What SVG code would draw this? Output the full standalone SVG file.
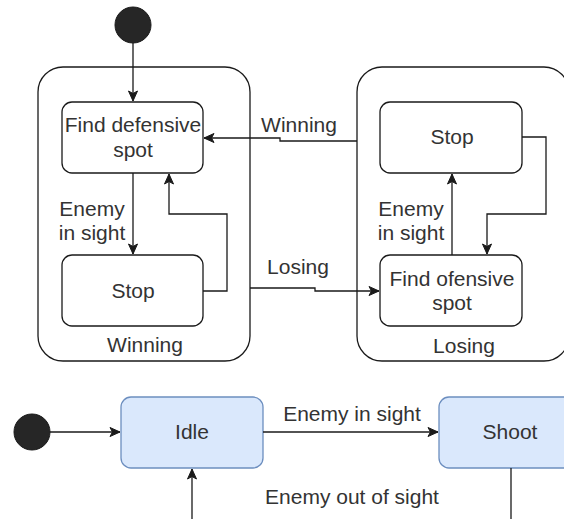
<svg xmlns="http://www.w3.org/2000/svg" width="564" height="519" viewBox="0 0 564 519">
<defs>
<style>
.t{font-family:"Liberation Sans",Arial,sans-serif;font-size:21px;fill:#333333;text-anchor:middle}
.box{fill:#ffffff;stroke:#1a1a1a;stroke-width:1.3}
.cont{fill:none;stroke:#1a1a1a;stroke-width:1.3}
.blue{fill:#dae8fc;stroke:#6c8ebf;stroke-width:1.3}
.ln{fill:none;stroke:#1a1a1a;stroke-width:1.3}
.dot{fill:#262626;stroke:#1a1a1a;stroke-width:1}
</style>
<marker id="ah" markerUnits="userSpaceOnUse" markerWidth="12" markerHeight="12" viewBox="0 0 12 12" refX="11" refY="6" orient="auto">
<path d="M1,1.5 L11,6 L1,10.5 L3.5,6 Z" fill="#1a1a1a" stroke="#1a1a1a" stroke-width="1"/>
</marker>
</defs>

<g id="winning-container">
<rect class="cont" x="38" y="67" width="212" height="294" rx="25"/>
<text class="t" x="145" y="352">Winning</text>
</g>
<g id="losing-container">
<rect class="cont" x="357" y="67" width="212" height="294" rx="25"/>
<text class="t" x="464" y="353">Losing</text>
</g>

<g id="start-top"><circle class="dot" cx="133" cy="25" r="18"/></g>
<g id="find-defensive">
<rect class="box" x="62" y="102" width="141" height="71" rx="10"/>
<text class="t" x="133" y="132">Find defensive</text>
<text class="t" x="133" y="157">spot</text>
</g>
<g id="stop-left">
<rect class="box" x="62" y="255" width="141" height="71" rx="10"/>
<text class="t" x="133" y="298">Stop</text>
</g>
<g id="stop-right">
<rect class="box" x="380" y="102" width="142" height="71" rx="10"/>
<text class="t" x="452" y="144">Stop</text>
</g>
<g id="find-ofensive">
<rect class="box" x="380" y="255" width="142" height="71" rx="10"/>
<text class="t" x="452" y="286">Find ofensive</text>
<text class="t" x="452" y="310">spot</text>
</g>

<g id="start-bottom"><circle class="dot" cx="32" cy="432" r="18"/></g>
<g id="idle">
<rect class="blue" x="121" y="397" width="142" height="71" rx="10"/>
<text class="t" x="192" y="439">Idle</text>
</g>
<g id="shoot">
<rect class="blue" x="439" y="397" width="142" height="71" rx="10"/>
<text class="t" x="510" y="439">Shoot</text>
</g>

<g id="connectors">
<path class="ln" d="M133,43 V101" marker-end="url(#ah)"/>
<path class="ln" d="M133,173 V254" marker-end="url(#ah)"/>
<text class="t" x="92" y="216">Enemy</text>
<text class="t" x="92" y="240">in sight</text>
<path class="ln" d="M203,291 H227 V214 H169 V174" marker-end="url(#ah)"/>

<path class="ln" d="M357,141 H280 V138 H204" marker-end="url(#ah)"/>
<text class="t" x="299" y="132">Winning</text>
<path class="ln" d="M250,288 H315 V291 H379" marker-end="url(#ah)"/>
<text class="t" x="298" y="274">Losing</text>

<path class="ln" d="M452,255 V174" marker-end="url(#ah)"/>
<text class="t" x="411" y="216">Enemy</text>
<text class="t" x="411" y="240">in sight</text>
<path class="ln" d="M522,137 H546 V214 H487 V254" marker-end="url(#ah)"/>

<path class="ln" d="M50,432 H120" marker-end="url(#ah)"/>
<path class="ln" d="M263,432 H438" marker-end="url(#ah)"/>
<text class="t" x="352" y="421">Enemy in sight</text>
<path class="ln" d="M511,468 V519"/>
<path class="ln" d="M192,519 V469" marker-end="url(#ah)"/>
<text class="t" x="352" y="504">Enemy out of sight</text>
</g>
</svg>
